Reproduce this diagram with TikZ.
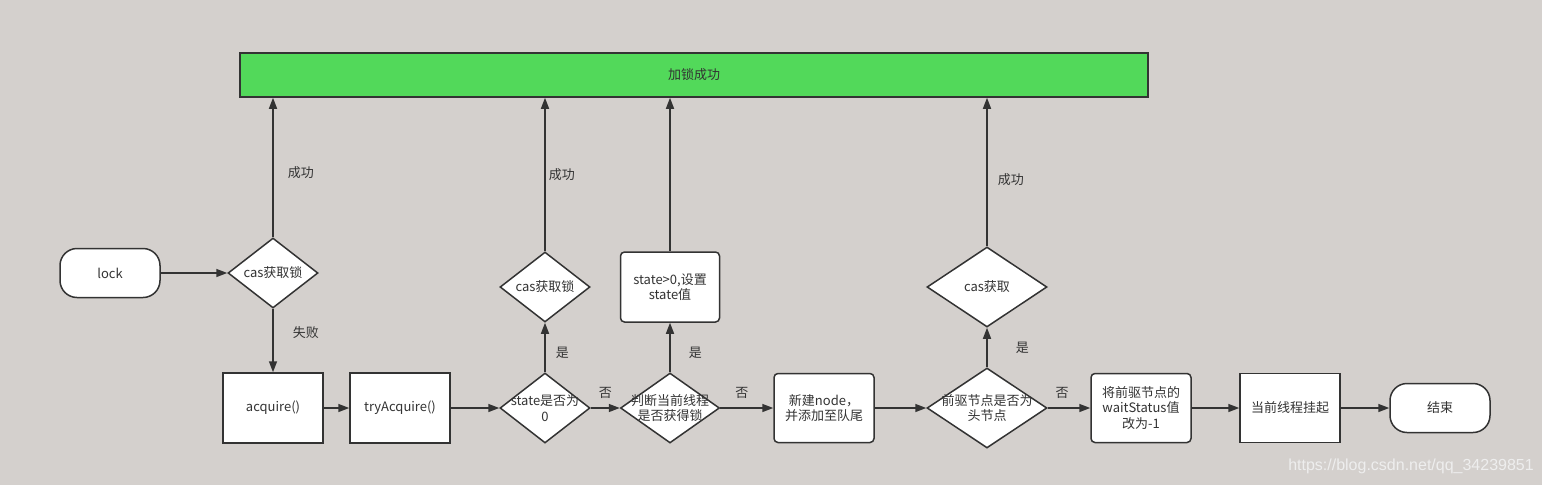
\documentclass[tikz,border=0pt]{standalone}
\usepackage{fontspec}
\setmainfont{Noto Sans CJK SC}
\newfontfamily\wmfont{Liberation Sans}
\usetikzlibrary{shapes.geometric,arrows.meta}
\definecolor{bgc}{RGB}{212,208,205}
\definecolor{grn}{RGB}{82,217,90}
\definecolor{ink}{RGB}{51,51,51}
\definecolor{wm}{RGB}{238,238,238}
\begin{document}
\begin{tikzpicture}[x=1pt,y=-1pt,
  every node/.style={font=\fontsize{13}{15.5}\selectfont, text=ink},
  base/.style={draw=ink, line width=1.5pt, fill=white, inner sep=0pt, align=center},
  proc/.style={base, rectangle, minimum width=100pt, minimum height=70pt},
  rproc/.style={proc, rounded corners=4pt},
  term/.style={base, rectangle, rounded corners=17pt, minimum width=100pt, minimum height=49pt},
  decision/.style={base, diamond, minimum width=90pt, minimum height=70pt},
  bigdecision/.style={base, diamond, minimum width=120pt, minimum height=80pt},
  flow/.style={draw=ink, line width=1.5pt, -{Triangle[length=11pt,width=8pt]}},
  lbl/.style={inner sep=0pt, fill=none, draw=none}
]
\fill[bgc] (0,0) rectangle (1542,485);
\useasboundingbox (0,0) rectangle (1542,485);

\node[base, fill=grn, minimum width=908pt, minimum height=44pt] (ok) at (694,75) {加锁成功};

\node[term] (lock) at (110,273) {lock};
\node[decision, label={[lbl, align=center]center:cas获取锁}] (c1) at (273,273) {};
\node[proc] (acq) at (273,408) {acquire()};
\node[proc] (try) at (400,408) {tryAcquire()};
\node[decision, label={[lbl, align=center]center:state是否为\\0}] (st) at (545,408) {};
\node[decision, label={[lbl, align=center]center:cas获取锁}] (c2) at (545,287) {};
\node[decision, minimum width=99pt, label={[lbl, align=center]center:判断当前线程\\是否获得锁}] (cur) at (670,408) {};
\node[rproc, minimum width=99pt] (set) at (670,287) {state>0,设置\\state值};
\node[rproc, minimum height=69pt] (new) at (824,408) {新建node，\\并添加至队尾};
\node[bigdecision, label={[lbl, align=center]center:前驱节点是否为\\头节点}] (pre) at (987,408) {};
\node[bigdecision, label={[lbl, align=center]center:cas获取}] (c3) at (987,287) {};
\node[rproc, minimum height=69pt] (ws) at (1141,408) {将前驱节点的\\waitStatus值\\改为-1};
\node[proc, minimum height=69pt] (park) at (1290,408) {当前线程挂起};
\node[term] (end) at (1440,408) {结束};

\draw[flow] (lock) -- (c1);
\draw[flow] (c1.north) -- node[lbl, pos=0.46, right=14pt] {成功} (c1.north |- ok.south);
\draw[flow] (c1.south) -- node[lbl, pos=0.38, right=19pt] {失败} (acq.north);
\draw[flow] (acq) -- (try);
\draw[flow] (try) -- (st);
\draw[flow] (st.north) -- node[lbl, pos=0.39, right=10pt] {是} (c2.south);
\draw[flow] (c2.north) -- node[lbl, pos=0.5, right=3pt] {成功} (c2.north |- ok.south);
\draw[flow] (st.east) -- node[lbl, pos=0.5, above=9pt] {否} (cur.west);
\draw[flow] (cur.north) -- node[lbl, pos=0.39, right=18pt] {是} (set.south);
\draw[flow] (set.north) -- (set.north |- ok.south);
\draw[flow] (cur.east) -- node[lbl, pos=0.41, above=9pt] {否} (new.west);
\draw[flow] (new.east) -- (pre.west);
\draw[flow] (pre.north) -- node[lbl, pos=0.48, right=28pt] {是} (c3.south);
\draw[flow] (c3.north) -- node[lbl, pos=0.45, right=10pt] {成功} (c3.north |- ok.south);
\draw[flow] (pre.east) -- node[lbl, pos=0.34, above=9pt] {否} (ws.west);
\draw[flow] (ws) -- (park);
\draw[flow] (park) -- (end);

\node[lbl, text=wm, font=\wmfont\fontsize{16}{18}\selectfont] (wmk) at (1411,466) {https://blog.csdn.net/qq\_34239851};
\end{tikzpicture}
\end{document}
